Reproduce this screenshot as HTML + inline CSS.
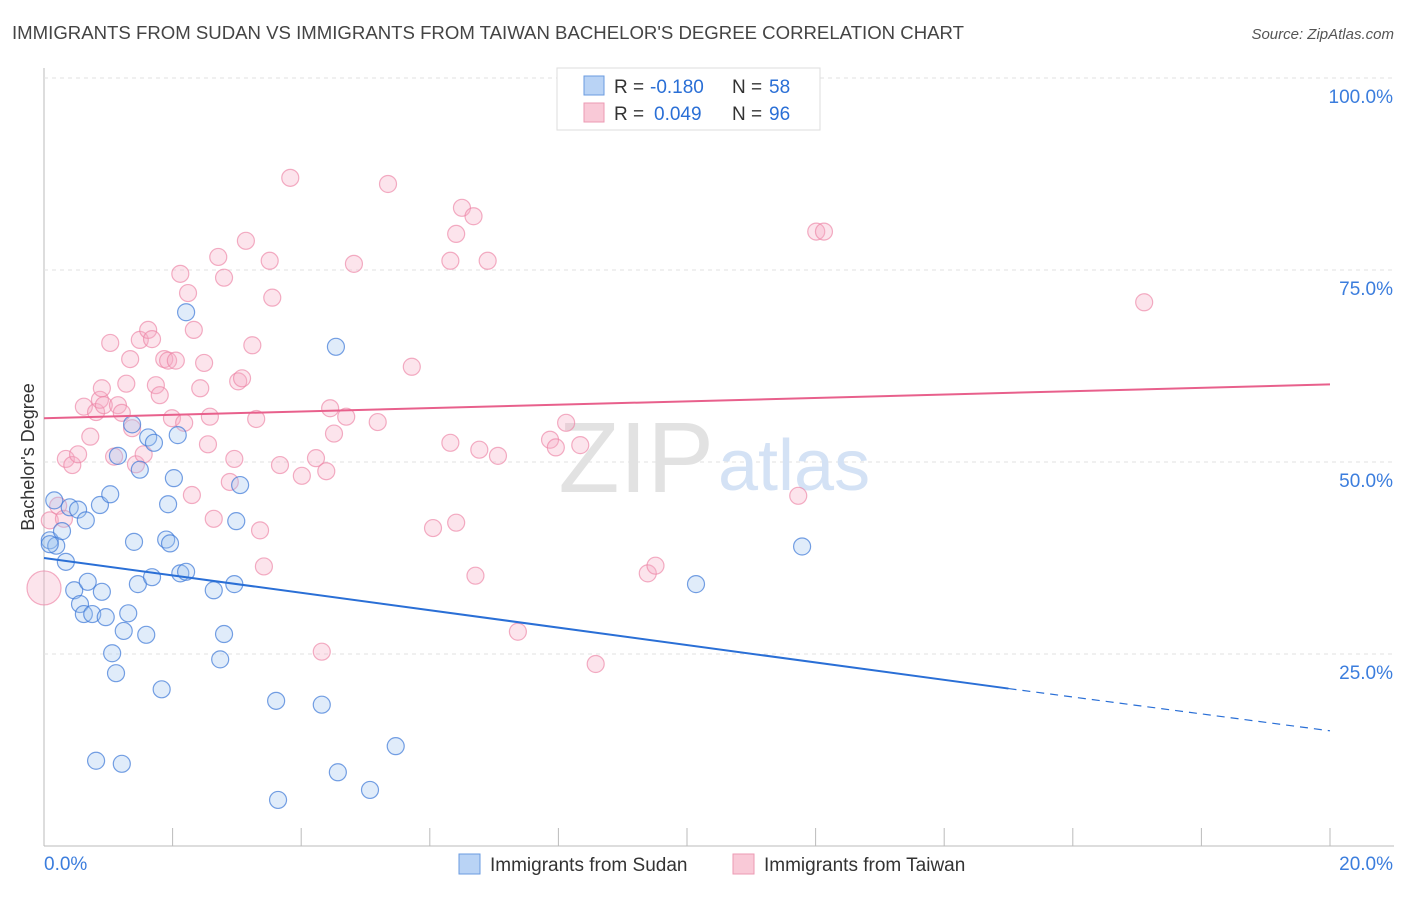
<!DOCTYPE html>
<html><head><meta charset="utf-8"><style>
body{margin:0;background:#fff;font-family:"Liberation Sans",sans-serif;}
svg text{font-family:"Liberation Sans",sans-serif;}
</style></head><body>
<svg id="chart" width="1406" height="892" viewBox="0 0 1406 892" xmlns="http://www.w3.org/2000/svg">
<text x="12" y="39" font-size="18" fill="#444" textLength="952" lengthAdjust="spacingAndGlyphs">IMMIGRANTS FROM SUDAN VS IMMIGRANTS FROM TAIWAN BACHELOR'S DEGREE CORRELATION CHART</text>
<text x="1394" y="39" font-size="15" fill="#555" text-anchor="end" font-style="italic">Source: ZipAtlas.com</text>
<g id="grid"></g>
<text x="714" y="492" font-size="100" text-anchor="end" fill="#e2e2e2" font-family="Liberation Serif">ZIP</text>
<text x="718" y="490" font-size="72" fill="#d4e2f5">atlas</text>
<g id="points"></g>
<g id="trends"></g>
<text transform="translate(34,457) rotate(-90)" font-size="18" fill="#333" text-anchor="middle">Bachelor's Degree</text>
<g>
<rect x="557" y="68" width="263" height="62" fill="#fff" stroke="#ddd"/>
<rect x="584" y="76" width="20" height="19" fill="#b9d3f5" stroke="#6a9be0"/>
<rect x="584" y="103" width="20" height="19" fill="#f9c9d7" stroke="#ec9ab3"/>
<text x="614" y="93" font-size="19" fill="#333">R =</text>
<text x="650" y="93" font-size="19" fill="#2a6fd6">-0.180</text>
<text x="732" y="93" font-size="19" fill="#333">N =</text>
<text x="769" y="93" font-size="19" fill="#2a6fd6">58</text>
<text x="614" y="120" font-size="19" fill="#333">R =</text>
<text x="654" y="120" font-size="19" fill="#2a6fd6">0.049</text>
<text x="732" y="120" font-size="19" fill="#333">N =</text>
<text x="769" y="120" font-size="19" fill="#2a6fd6">96</text>
</g>
<g>
<rect x="459" y="854" width="21" height="20" fill="#b9d3f5" stroke="#6a9be0"/>
<text x="490" y="871" font-size="19" fill="#333">Immigrants from Sudan</text>
<rect x="733" y="854" width="21" height="20" fill="#f9c9d7" stroke="#ec9ab3"/>
<text x="764" y="871" font-size="19" fill="#333">Immigrants from Taiwan</text>
</g>
</svg>
<script>
const yTicks=[25,50,75,100];
const yTickLabels=["25.0%","50.0%","75.0%","100.0%"];
const xEndLabels=["0.0%","20.0%"];
const sudanX=[0.16,0.09,0.19,0.28,0.34,0.40,0.53,0.65,0.47,0.68,0.90,0.56,0.62,0.75,0.96,0.87,1.03,1.31,1.24,1.06,1.12,0.81,1.21,1.40,1.46,1.59,1.68,1.83,1.37,1.62,1.71,1.49,1.15,1.93,1.90,1.96,2.02,2.08,2.21,2.12,2.21,2.64,2.80,2.74,2.99,3.05,2.96,3.61,3.64,4.32,4.54,4.57,5.07,5.47,10.14,11.79,0.09];
const sudanY=[45.0,39.8,39.1,41.0,37.0,44.1,43.8,42.4,33.3,34.4,33.1,31.5,30.2,30.2,29.8,44.4,45.8,30.3,28.0,25.1,22.5,11.1,10.7,39.6,34.1,27.5,35.0,20.4,54.9,53.2,52.5,49.0,50.8,44.5,39.9,39.4,47.9,53.5,69.5,35.5,35.7,33.3,27.6,24.3,42.3,47.0,34.1,18.9,6.0,18.4,65.0,9.6,7.3,13.0,34.1,39.0,39.3];
const taiwanX=[0,0.09,0.22,0.31,0.34,0.44,0.53,0.62,0.72,0.81,0.87,0.90,0.93,1.03,1.09,1.15,1.21,1.28,1.34,1.37,1.43,1.49,1.55,1.62,1.68,1.74,1.80,1.87,1.93,1.99,2.05,2.12,2.18,2.24,2.30,2.33,2.43,2.49,2.55,2.58,2.64,2.71,2.80,2.89,2.96,3.02,3.08,3.14,3.24,3.30,3.36,3.42,3.51,3.55,3.67,3.83,4.01,4.23,4.32,4.39,4.45,4.51,4.70,4.82,5.19,5.35,5.72,6.05,6.32,6.41,6.32,6.41,6.50,6.68,6.71,6.77,6.90,7.06,7.37,7.87,7.96,8.12,8.34,8.58,9.39,9.51,11.73,12.01,12.13,17.11];
const taiwanY=[33.6,42.4,44.3,42.6,50.4,49.6,51.0,57.2,53.3,56.5,58.1,59.6,57.4,65.5,50.7,57.4,56.4,60.2,63.4,54.4,49.7,65.9,51.0,67.2,66.0,60.0,58.7,63.4,63.2,55.7,63.2,74.5,55.1,72.0,45.7,67.2,59.6,62.9,52.3,55.9,42.6,76.7,74.0,47.4,50.4,60.5,60.9,78.8,65.2,55.6,41.1,36.4,76.2,71.4,49.6,87.0,48.2,50.5,25.3,48.8,57.0,53.7,55.9,75.8,55.2,86.2,62.4,41.4,52.5,42.1,76.2,79.7,83.1,82.0,35.2,51.6,76.2,50.8,27.9,52.9,51.9,55.1,52.2,23.7,35.5,36.5,45.6,80.0,80.0,70.8];
const sudanTrend=[37.5,20.5,15.0];
const taiwanTrend=[55.7,60.1];
const X0=44,X1=1330,Y0=846;
function xs(v){return X0+v/20*(X1-X0);}
function ys(v){return Y0-v*7.68;}
const NS="http://www.w3.org/2000/svg";
function mk(tag,attrs,parent){const e=document.createElementNS(NS,tag);for(const k in attrs)e.setAttribute(k,attrs[k]);parent.appendChild(e);return e;}
const grid=document.getElementById('grid');
let ax=mk('line',{x1:X0,x2:X0,y1:68,y2:Y0,stroke:'#bbb'},grid);


let bx=mk('line',{x1:X0,x2:1394,y1:Y0,y2:Y0,stroke:'#bbb'},grid);


yTicks.forEach((t,i)=>{
  let g=mk('line',{x1:X0,x2:1394,y1:ys(t),y2:ys(t),stroke:'#e2e2e2','stroke-dasharray':'4,4'},grid);
  
  
  let tx=mk('text',{x:1393,y:ys(t)+25,'font-size':19,fill:'#3b7ddd','text-anchor':'end'},grid);
  tx.textContent=yTickLabels[i];
  
  
});
for(let i=1;i<=10;i++){
  let tk=mk('line',{x1:xs(i*2),x2:xs(i*2),y1:Y0,y2:Y0-18,stroke:'#bbb'},grid);
  
  
}
let l0=mk('text',{x:44,y:870,'font-size':19,fill:'#3b7ddd'},grid);l0.textContent=xEndLabels[0];


let l1=mk('text',{x:1393,y:870,'font-size':19,fill:'#3b7ddd','text-anchor':'end'},grid);l1.textContent=xEndLabels[1];


const pts=document.getElementById('points');
taiwanX.forEach((x,i)=>{
  let c=mk('circle',{cx:xs(x),cy:ys(taiwanY[i]),r:i===0?17:8.5,fill:'rgba(246,170,195,0.32)',stroke:'rgba(236,130,165,0.65)','stroke-width':1.2},pts);
  
  
});
sudanX.forEach((x,i)=>{
  let c=mk('circle',{cx:xs(x),cy:ys(sudanY[i]),r:8.5,fill:'rgba(160,195,240,0.32)',stroke:'rgba(60,120,215,0.7)','stroke-width':1.2},pts);
  
  
});
const tr=document.getElementById('trends');
let s1=mk('line',{x1:xs(0),y1:ys(sudanTrend[0]),x2:xs(15),y2:ys(sudanTrend[1]),stroke:'#2a6fd6','stroke-width':2},tr);


let s2=mk('line',{x1:xs(15),y1:ys(sudanTrend[1]),x2:xs(20),y2:ys(sudanTrend[2]),stroke:'#2a6fd6','stroke-width':1.2,'stroke-dasharray':'8,6'},tr);


let t1=mk('line',{x1:xs(0),y1:ys(taiwanTrend[0]),x2:xs(20),y2:ys(taiwanTrend[1]),stroke:'#e8608c','stroke-width':2},tr);


</script>
</body></html>
